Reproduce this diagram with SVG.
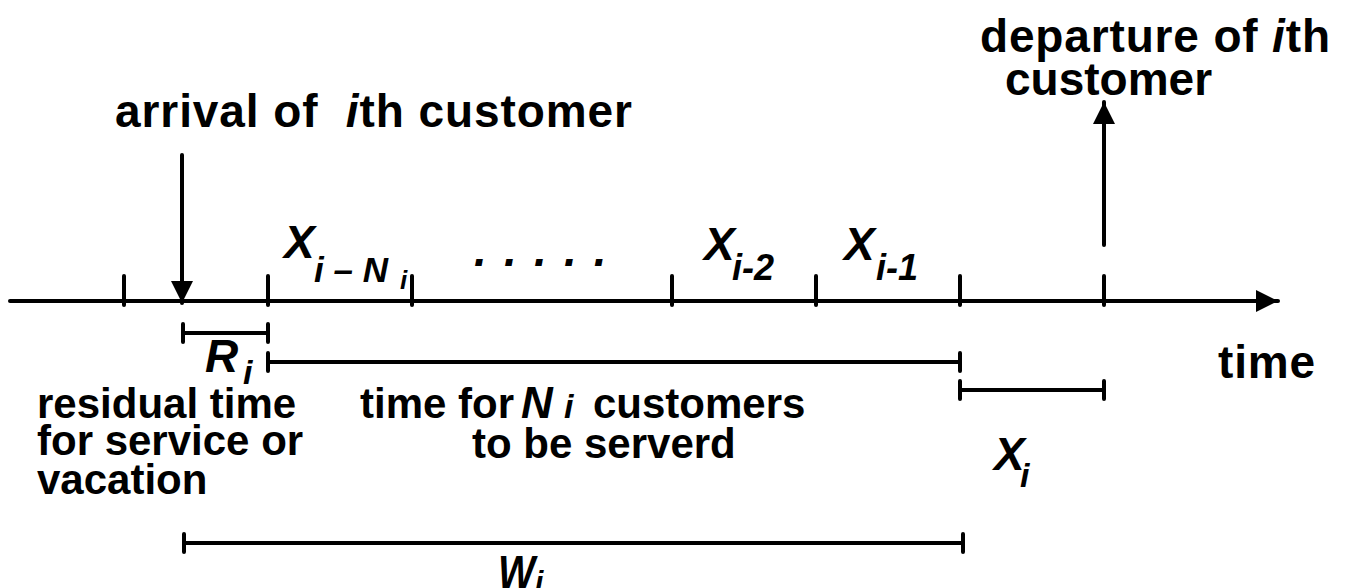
<svg xmlns="http://www.w3.org/2000/svg" width="1346" height="588" viewBox="0 0 1346 588">
<style>
text{font-family:"Liberation Sans",Arial,sans-serif;font-weight:bold;fill:#000;white-space:pre}
.it{font-style:italic}
.ln{stroke:#000;stroke-width:4;stroke-linecap:round;fill:none}
</style>
<defs>
<marker id="ah" viewBox="0 0 10 10" refX="10" refY="5" markerWidth="5.5" markerHeight="5.5" orient="auto" markerUnits="strokeWidth">
<path d="M0,0 L10,5 L0,10 Z" fill="#000"/>
</marker>
</defs>
<rect width="1346" height="588" fill="#fff"/>
<g id="connectors">
<line class="ln" x1="10" y1="301" x2="1278" y2="301" marker-end="url(#ah)"/>
<line class="ln" x1="182" y1="155" x2="182" y2="303" marker-end="url(#ah)"/>
<line class="ln" x1="1104" y1="245" x2="1104" y2="102" marker-end="url(#ah)"/>
</g>
<g id="ticks">
<line class="ln" x1="124" y1="276" x2="124" y2="305"/>
<line class="ln" x1="268" y1="276" x2="268" y2="305"/>
<line class="ln" x1="412" y1="276" x2="412" y2="305"/>
<line class="ln" x1="672" y1="276" x2="672" y2="305"/>
<line class="ln" x1="816" y1="276" x2="816" y2="305"/>
<line class="ln" x1="960" y1="276" x2="960" y2="305"/>
<line class="ln" x1="1104" y1="276" x2="1104" y2="305"/>
</g>
<g id="brackets">
<path class="ln" d="M183,324 V342 M183,333 H268 M268,324 V342"/>
<path class="ln" d="M268,353 V371 M268,362 H960 M960,353 V371"/>
<path class="ln" d="M960,381 V399 M960,390 H1104 M1104,381 V399"/>
<path class="ln" d="M184,534 V552 M184,543 H963 M963,534 V552"/>
</g>
<g id="arrival-label"><text x="115" y="127" font-size="46" textLength="517" lengthAdjust="spacing">arrival of  <tspan class="it">i</tspan>th customer</text></g>
<g id="departure-label">
<text x="980" y="52" font-size="46" textLength="350" lengthAdjust="spacing">departure of <tspan class="it">i</tspan>th</text>
<text x="1005" y="95" font-size="46">customer</text>
</g>
<g id="time-label"><text x="1218" y="378" font-size="46" textLength="97" lengthAdjust="spacing">time</text></g>
<g id="x-i-ni"><text class="it" x="284" y="258" font-size="46">X</text><text class="it" x="314" y="282" font-size="35">i – N</text><text class="it" x="400" y="289" font-size="26">i</text></g>
<g id="dots"><text class="it" x="474" y="266" font-size="46" letter-spacing="2.2">. . . . .</text></g>
<g id="x-i-2"><text class="it" x="704" y="260" font-size="46">X</text><text class="it" x="732" y="280" font-size="36">i-2</text></g>
<g id="x-i-1"><text class="it" x="844" y="260" font-size="46">X</text><text class="it" x="876" y="280" font-size="36">i-1</text></g>
<g id="r-i"><text class="it" x="205" y="372" font-size="46">R</text><text class="it" x="243" y="384" font-size="34">i</text></g>
<g id="residual-label">
<text x="37" y="418" font-size="42">residual time</text>
<text x="37" y="455" font-size="42">for service or</text>
<text x="37" y="494" font-size="42">vacation</text>
</g>
<g id="ni-label">
<text x="360" y="418" font-size="42">time for</text>
<text class="it" x="521" y="418" font-size="44">N</text>
<text class="it" x="564" y="418" font-size="34">i</text>
<text x="593" y="418" font-size="42">customers</text>
<text x="472" y="458" font-size="42">to be serverd</text>
</g>
<g id="x-i"><text class="it" x="994" y="470" font-size="46">X</text><text class="it" x="1020" y="487" font-size="34">i</text></g>
<g id="w-i"><text class="it" x="498" y="588" font-size="46" textLength="37" lengthAdjust="spacingAndGlyphs">W</text><text class="it" x="535" y="592" font-size="30">i</text></g>
</svg>
